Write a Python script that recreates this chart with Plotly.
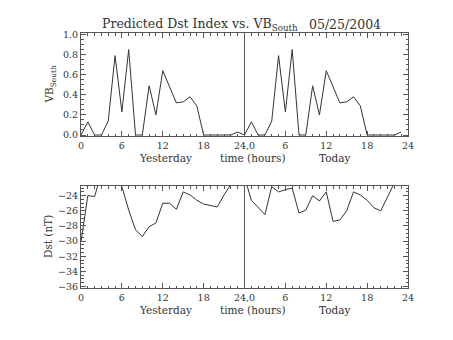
import plotly.graph_objects as go

hours = list(range(48))
vb_south = [0.0, 0.13, 0.0, 0.0, 0.14, 0.79, 0.23, 0.85, 0.0, 0.0, 0.49, 0.2,
            0.64, 0.48, 0.32, 0.33, 0.38, 0.29, 0.0, 0.0, 0.0, 0.0, 0.0, 0.03,
            0.0, 0.13, 0.0, 0.0, 0.14, 0.79, 0.23, 0.85, 0.0, 0.0, 0.49, 0.2,
            0.64, 0.48, 0.32, 0.33, 0.38, 0.29, 0.0, 0.0, 0.0, 0.0, 0.0, 0.03]
dst = [-30.1, -24.0, -24.1, -21.0, -21.0, -21.5, -22.8, -25.9, -28.5, -29.4, -28.1, -27.6,
       -25.0, -25.0, -25.8, -23.5, -23.9, -24.6, -25.1, -25.3, -25.5, -23.9, -22.5, -21.5,
       -21.5, -24.6, -25.6, -26.5, -22.8, -23.5, -23.2, -23.0, -26.3, -25.9, -24.0, -24.7,
       -23.5, -27.4, -27.2, -26.0, -23.5, -23.9, -24.6, -25.6, -26.0, -24.1, -22.3, -21.5]
x_tickvals = [0, 6, 12, 18, 24, 30, 36, 42, 48]
x_ticktext = ["0", "6", "12", "18", "24,0", "6", "12", "18", "24"]
vb_ticks = [0.0, 0.2, 0.4, 0.6, 0.8, 1.0]
dst_ticks = [-24, -26, -28, -30, -32, -34, -36]

FONT = "DejaVu Serif"
INK = "#333333"
AX = "#555555"

fig = go.Figure()
fig.add_trace(go.Scatter(x=hours, y=vb_south, mode="lines", line=dict(color=INK, width=1),
                         xaxis="x", yaxis="y", showlegend=False))
fig.add_trace(go.Scatter(x=hours, y=dst, mode="lines", line=dict(color=INK, width=1),
                         xaxis="x2", yaxis="y2", showlegend=False))

def xax(anchor):
    return dict(range=[0, 48], tickvals=x_tickvals, ticktext=x_ticktext, ticks="inside",
                ticklen=5, tickcolor=AX, showline=True, linecolor=AX, linewidth=1,
                mirror="ticks", showgrid=False, zeroline=False, anchor=anchor,
                ticklabelstandoff=1,
                tickfont=dict(family=FONT, size=9.5, color=INK),
                minor=dict(dtick=1, ticks="inside", ticklen=2.5, tickcolor=AX, showgrid=False))

def yax(rng, tv, dom, anchor, mdt, fmt):
    return dict(range=rng, tickvals=tv, ticktext=[fmt(v) for v in tv], ticks="inside",
                ticklen=5, tickcolor=AX, showline=True, linecolor=AX, linewidth=1,
                mirror="ticks", showgrid=False, zeroline=False, domain=dom, anchor=anchor,
                tickfont=dict(family=FONT, size=9.5, color=INK),
                minor=dict(dtick=mdt, ticks="inside", ticklen=2.5, tickcolor=AX, showgrid=False))

fig.update_layout(
    width=453, height=340,
    margin=dict(l=81, r=45, t=33, b=52),
    paper_bgcolor="white", plot_bgcolor="white",
    xaxis=xax("y"),
    xaxis2=xax("y2"),
    yaxis=yax([-0.01, 1.015], vb_ticks, [0.596, 1.0], "x", 0.05, lambda v: f"{v:.1f}"),
    yaxis2=yax([-36.2, -22.72], dst_ticks, [0.0, 0.4], "x2", 0.5, lambda v: f"\u2212{abs(v):d}"),
    shapes=[
        dict(type="line", xref="x", yref="y domain", x0=24, x1=24, y0=0, y1=1,
             line=dict(color=AX, width=1)),
        dict(type="line", xref="x2", yref="y2 domain", x0=24, x1=24, y0=0, y1=1,
             line=dict(color=AX, width=1)),
    ],
)

ann = []
lab = dict(family=FONT, size=10.5, color=INK)
for xa, ya in (("x", "y"), ("x2", "y2")):
    for xv, txt in ((12.4, "Yesterday"), (25.3, "time (hours)"), (37.25, "Today")):
        ann.append(dict(x=xv, xref=xa, y=0, yref=f"{ya} domain", yshift=-22, yanchor="middle",
                        xanchor="center", text=txt, showarrow=False, font=lab))
ann.append(dict(x=0, xref="paper", xshift=-31, y=0.5, yref="y domain", text="VB<sub>South</sub>",
                textangle=-90, showarrow=False, font=lab, xanchor="center", yanchor="middle"))
ann.append(dict(x=0, xref="paper", xshift=-33, y=0.5, yref="y2 domain", text="Dst (nT)",
                textangle=-90, showarrow=False, font=lab, xanchor="center", yanchor="middle"))
ann.append(dict(x=(100 - 81) / (453 - 81 - 45), xref="paper", y=1, yref="paper", yshift=9,
                text="Predicted Dst Index vs. VB<sub>South</sub>", showarrow=False,
                font=dict(family=FONT, size=12.5, color=INK), xanchor="left", yanchor="middle"))
ann.append(dict(x=1, xref="paper", y=1, yref="paper", yshift=9, xshift=-25,
                text="05/25/2004", showarrow=False,
                font=dict(family=FONT, size=12.5, color=INK), xanchor="right", yanchor="middle"))
fig.update_layout(annotations=ann)

fig.write_html("out.html")
